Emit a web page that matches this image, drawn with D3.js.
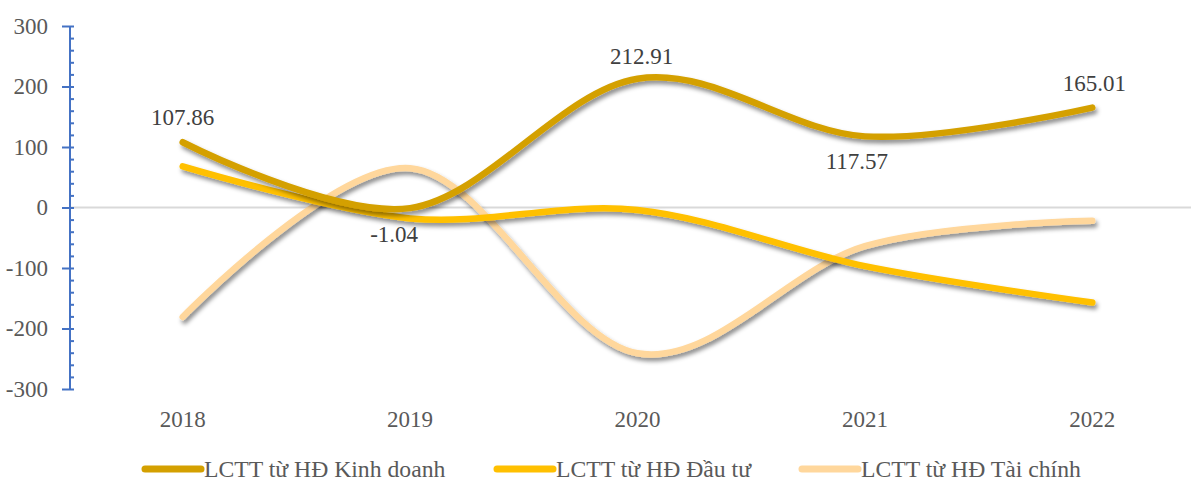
<!DOCTYPE html>
<html>
<head>
<meta charset="utf-8">
<script src="https://cdn.jsdelivr.net/npm/d3@7"></script>
<style>
  html, body { margin: 0; padding: 0; background: #fff; }
  svg { display: block; }
  text { font-family: "Liberation Serif", "Times New Roman", serif; }
</style>
</head>
<body>
<svg id="chart" width="1191" height="481"></svg>
<script>
// Cash flow by activity, 2018–2022 (billion VND)
const years = ["2018", "2019", "2020", "2021", "2022"];
const kinhDoanh = [107.86, -1.04, 212.91, 117.57, 165.01];
const dauTu = [68, -18, -4, -97, -157];
const taiChinh = [-181, 65, -241, -64, -22];
const seriesNames = ["LCTT từ HĐ Kinh doanh", "LCTT từ HĐ Đầu tư", "LCTT từ HĐ Tài chính"];
const yTicks = [-300, -200, -100, 0, 100, 200, 300];

const colors = ["#D4A000", "#FFC000", "#FFD79C"];
const series = [kinhDoanh, dauTu, taiChinh];

// plain hyphen-minus for negative numbers
const fmtInt = v => d3.format("d")(v).replace("\u2212", "-");
const fmt2 = v => d3.format(".2f")(v).replace("\u2212", "-");

const svg = d3.select("#chart");

const x = d3.scalePoint().domain(years).range([69, 1206]).padding(0.5);
const y = d3.scaleLinear().domain([-300, 300]).range([389, 26]);

// drop shadow used by the series lines
const defs = svg.append("defs");
const f = defs.append("filter").attr("id", "shadow")
  .attr("x", "-10%").attr("y", "-20%").attr("width", "130%").attr("height", "160%");
f.append("feDropShadow").attr("dx", 2).attr("dy", 3.5).attr("stdDeviation", 2.2)
  .attr("flood-color", "#000").attr("flood-opacity", 0.45);

// zero line
svg.append("line")
  .attr("x1", 70).attr("x2", 1191)
  .attr("y1", y(0)).attr("y2", y(0))
  .attr("stroke", "#D9D9D9").attr("stroke-width", 2);

// category labels
svg.append("g").selectAll("text").data(years).join("text")
  .attr("x", d => x(d)).attr("y", 427)
  .attr("text-anchor", "middle")
  .attr("font-size", 23).attr("fill", "#595959")
  .text(d => d);

// y axis: major ticks with labels, minor ticks every 20
const axisX = 70;
const gMajor = svg.append("g").attr("transform", `translate(${axisX},0)`)
  .call(d3.axisLeft(y).tickValues(yTicks).tickSize(8).tickPadding(14).tickFormat(fmtInt));
gMajor.select(".domain").remove();
gMajor.selectAll(".tick line").attr("stroke", "#4472C4").attr("stroke-width", 2);
gMajor.selectAll(".tick text")
  .attr("font-family", "Liberation Serif, Times New Roman, serif")
  .attr("font-size", 23).attr("fill", "#595959");

const gMinor = svg.append("g").attr("transform", `translate(${axisX},0)`)
  .call(d3.axisRight(y).tickValues(d3.range(-300, 301, 20)).tickSize(4).tickFormat(""));
gMinor.select(".domain").attr("stroke", "#4472C4").attr("stroke-width", 2)
  .attr("d", `M0,${y(300)}V${y(-300)}`);
gMinor.selectAll(".tick line").attr("stroke", "#4472C4").attr("stroke-width", 2);

// smoothed series lines
const line = d3.line()
  .x((d, i) => x(years[i]))
  .y(d => y(d))
  .curve(d3.curveCardinal.tension(0));

const gLines = svg.append("g");
[2, 1, 0].forEach(k => {
  gLines.append("path")
    .attr("d", line(series[k]))
    .attr("fill", "none")
    .attr("stroke", colors[k])
    .attr("stroke-width", 6.5)
    .attr("stroke-linecap", "round")
    .attr("filter", "url(#shadow)");
});

// value labels for operating cash flow
const labelOffsets = [[0, -17.5], [-16, 33.5], [4, -15], [-8, 33], [2, -17]];
svg.append("g").selectAll("text").data(kinhDoanh).join("text")
  .attr("x", (d, i) => x(years[i]) + labelOffsets[i][0])
  .attr("y", (d, i) => y(d) + labelOffsets[i][1])
  .attr("text-anchor", "middle")
  .attr("font-size", 23).attr("fill", "#404040")
  .text(d => fmt2(d));

// legend
const legendX = [145, 497, 802];
const gLeg = svg.append("g");
seriesNames.forEach((name, k) => {
  gLeg.append("line")
    .attr("x1", legendX[k]).attr("x2", legendX[k] + 56)
    .attr("y1", 469).attr("y2", 469)
    .attr("stroke", colors[k]).attr("stroke-width", 7)
    .attr("stroke-linecap", "round");
  gLeg.append("text")
    .attr("x", legendX[k] + 59).attr("y", 477)
    .attr("font-size", 23.7).attr("fill", "#595959")
    .text(name);
});
</script>
</body>
</html>
